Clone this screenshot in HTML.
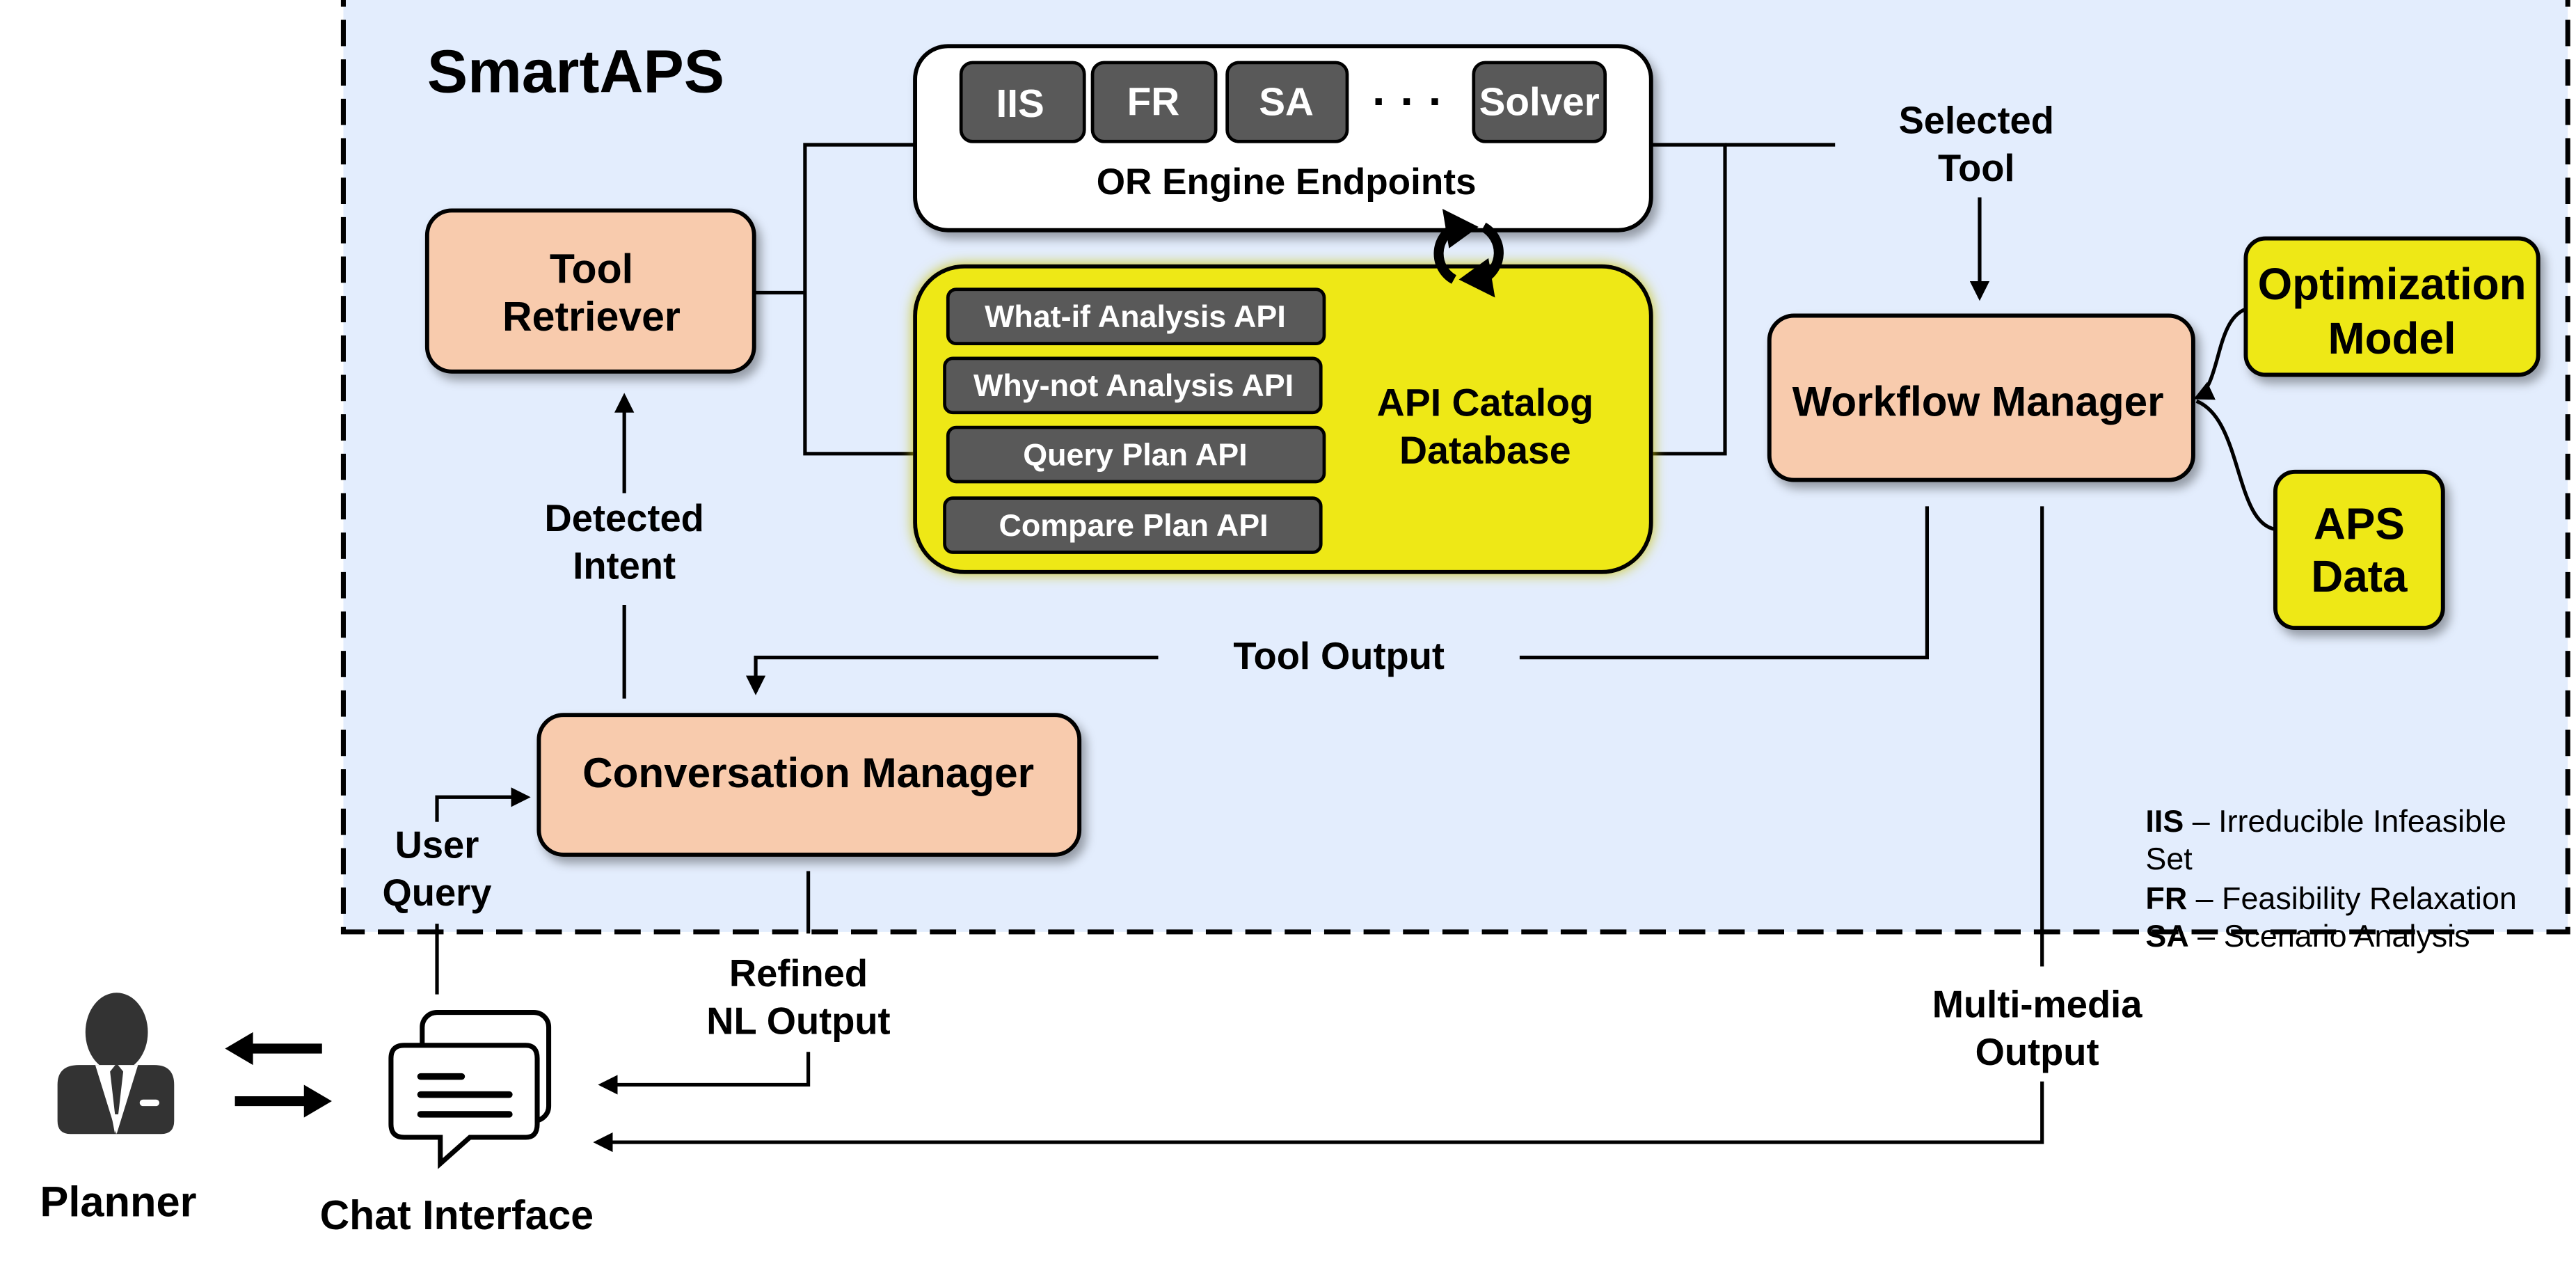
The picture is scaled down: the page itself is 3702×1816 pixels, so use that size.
<!DOCTYPE html>
<html><head><meta charset="utf-8"><style>
html,body{margin:0;padding:0;background:#fff;}
svg{display:block;}
text{font-family:"Liberation Sans",Arial,Helvetica,sans-serif;font-weight:bold;fill:#000;}
</style></head><body>
<svg width="3702" height="1816" viewBox="0 0 1568 769" xmlns="http://www.w3.org/2000/svg">
<defs>
<marker id="ah" markerWidth="12" markerHeight="12" refX="10" refY="6" orient="auto" markerUnits="userSpaceOnUse">
<path d="M0,0 L12,6 L0,12 Z" fill="#000"/></marker>
<filter id="sh" x="-10%" y="-10%" width="130%" height="140%"><feDropShadow dx="3" dy="4" stdDeviation="3" flood-color="#000" flood-opacity="0.35"/></filter>
<filter id="glow" x="-10%" y="-10%" width="120%" height="130%"><feDropShadow dx="0" dy="0" stdDeviation="4" flood-color="#c8c000" flood-opacity="0.9"/></filter>
</defs>
<rect x="209" y="-2" width="1354" height="569" fill="#e3edfd" stroke="#000" stroke-width="3" stroke-dasharray="16,8"/>
<text x="260" y="56" font-size="37">SmartAPS</text>

<g stroke="#000" stroke-width="2.2" fill="none">
<polyline points="459,178 490,178"/>
<polyline points="557,88 490,88 490,276 557,276"/>
<polyline points="1005,88 1050,88 1050,276 1005,276"/>
<line x1="1050" y1="88" x2="1117" y2="88"/>
<line x1="1205" y1="120" x2="1205" y2="181" marker-end="url(#ah)"/>
<polyline points="1173,308 1173,400 925,400"/>
<polyline points="705,400 460,400 460,421" marker-end="url(#ah)"/>
<line x1="380" y1="425" x2="380" y2="368"/>
<line x1="380" y1="300" x2="380" y2="241" marker-end="url(#ah)"/>
<line x1="266" y1="605" x2="266" y2="562"/>
<polyline points="266,500 266,485 321,485" marker-end="url(#ah)"/>
<line x1="492" y1="530" x2="492" y2="568"/>
<polyline points="492,640 492,660 366,660" marker-end="url(#ah)"/>
<line x1="1243" y1="308" x2="1243" y2="588"/>
<polyline points="1243,658 1243,695 363,695" marker-end="url(#ah)"/>
<path d="M1367,188 C1348,195 1352,235 1337,242" marker-end="url(#ah)"/>
<path d="M1385,322 C1360,318 1365,255 1337,244"/>
</g>

<rect x="557" y="28" width="448" height="112" rx="20" fill="#fff" stroke="#000" stroke-width="2.5" filter="url(#sh)"/>
<g stroke="#000" stroke-width="2" fill="#595959">
<rect x="585" y="38" width="75" height="48" rx="7"/>
<rect x="665" y="38" width="75" height="48" rx="7"/>
<rect x="747" y="38" width="73" height="48" rx="7"/>
<rect x="897" y="38" width="80" height="48" rx="7"/>
</g>
<g font-size="24" text-anchor="middle">
<text x="621" y="71" style="fill:#fff">IIS</text>
<text x="702" y="70" style="fill:#fff">FR</text>
<text x="783" y="70" style="fill:#fff">SA</text>
<text x="937" y="70" style="fill:#fff">Solver</text>
</g>
<text x="857" y="71" font-size="28" text-anchor="middle">· · ·</text>
<text x="783" y="118" font-size="22.5" text-anchor="middle">OR Engine Endpoints</text>

<rect x="557" y="162" width="448" height="186" rx="30" fill="#eee813" stroke="#000" stroke-width="2.5" filter="url(#glow)"/>
<g stroke="#000" stroke-width="2" fill="#595959">
<rect x="577" y="176" width="229" height="33" rx="5"/>
<rect x="575" y="218" width="229" height="33" rx="5"/>
<rect x="577" y="260" width="229" height="33" rx="5"/>
<rect x="575" y="303" width="229" height="33" rx="5"/>
</g>
<g font-size="19" text-anchor="middle">
<text x="691" y="199" style="fill:#fff">What-if Analysis API</text>
<text x="690" y="241" style="fill:#fff">Why-not Analysis API</text>
<text x="691" y="283" style="fill:#fff">Query Plan API</text>
<text x="690" y="326" style="fill:#fff">Compare Plan API</text>
</g>
<text x="904" y="253" font-size="23.5" text-anchor="middle">API Catalog</text>
<text x="904" y="282" font-size="23.5" text-anchor="middle">Database</text>

<g transform="translate(894,154)">
<path d="M-8,-16 A18,18 0 0 0 -9,16" stroke="#000" stroke-width="6" fill="none"/>
<path d="M8,16 A18,18 0 0 0 9,-16" stroke="#000" stroke-width="6" fill="none"/>
<path d="M-16,-27 L6,-16 L-12,-3 Z" fill="#000"/>
<path d="M16,27 L-6,16 L12,3 Z" fill="#000"/>
</g>

<rect x="260" y="128" width="199" height="98" rx="15" fill="#f8cbad" stroke="#000" stroke-width="2.5" filter="url(#sh)"/>
<text x="360" y="172" font-size="25" text-anchor="middle">Tool</text>
<text x="360" y="201" font-size="25" text-anchor="middle">Retriever</text>

<rect x="1077" y="192" width="258" height="100" rx="15" fill="#f8cbad" stroke="#000" stroke-width="2.5" filter="url(#sh)"/>
<text x="1204" y="253" font-size="25.5" text-anchor="middle">Workflow Manager</text>

<rect x="1367" y="145" width="178" height="83" rx="12" fill="#eee813" stroke="#000" stroke-width="2.5" filter="url(#sh)"/>
<text x="1456" y="182" font-size="27" text-anchor="middle">Optimization</text>
<text x="1456" y="215" font-size="27" text-anchor="middle">Model</text>
<rect x="1385" y="287" width="102" height="95" rx="12" fill="#eee813" stroke="#000" stroke-width="2.5" filter="url(#sh)"/>
<text x="1436" y="328" font-size="27" text-anchor="middle">APS</text>
<text x="1436" y="360" font-size="27" text-anchor="middle">Data</text>

<rect x="328" y="435" width="329" height="85" rx="15" fill="#f8cbad" stroke="#000" stroke-width="2.5" filter="url(#sh)"/>
<text x="492" y="479" font-size="25.5" text-anchor="middle">Conversation Manager</text>

<g font-size="23" text-anchor="middle">
<text x="1203" y="81">Selected</text><text x="1203" y="110">Tool</text>
<text x="815" y="407">Tool Output</text>
<text x="380" y="323">Detected</text><text x="380" y="352">Intent</text>
<text x="266" y="522">User</text><text x="266" y="551">Query</text>
<text x="486" y="600">Refined</text><text x="486" y="629">NL Output</text>
<text x="1240" y="619">Multi-media</text><text x="1240" y="648">Output</text>
</g>

<g font-size="19">
<text x="1306" y="506" style="font-weight:normal"><tspan style="font-weight:bold">IIS</tspan> – Irreducible Infeasible</text>
<text x="1306" y="529" style="font-weight:normal">Set</text>
<text x="1306" y="553" style="font-weight:normal"><tspan style="font-weight:bold">FR</tspan> – Feasibility Relaxation</text>
<text x="1306" y="576" style="font-weight:normal"><tspan style="font-weight:bold">SA</tspan> – Scenario Analysis</text>
</g>

<g fill="#333">
<ellipse cx="71" cy="628" rx="19" ry="24"/>
<path d="M48,648 L62,648 L70,690 L78,648 L94,648 Q106,648 106,660 L106,682 Q106,690 98,690 L43,690 Q35,690 35,682 L35,660 Q35,648 48,648 Z"/>
</g>
<path d="M58,648 L71,690 L84,648 Z" fill="#fff"/>
<path d="M67,652 L71,647 L75,652 L72,678 L70,678 Z" fill="#333"/>
<rect x="85" y="669" width="12" height="4" rx="2" fill="#fff"/>
<text x="72" y="740" font-size="26" text-anchor="middle">Planner</text>

<path d="M196,635 L154,635 L154,628 L137,638 L154,648 L154,641 L196,641 Z" fill="#000"/>
<path d="M143,667 L185,667 L185,660 L202,670 L185,680 L185,673 L143,673 Z" fill="#000"/>

<g fill="#fff" stroke="#000" stroke-width="3">
<rect x="257" y="616" width="77" height="66" rx="9"/>
<path d="M246,636 L320,636 Q327,636 327,644 L327,684 Q327,692 320,692 L286,692 L268,708 L268,692 L246,692 Q238,692 238,684 L238,644 Q238,636 246,636 Z"/>
</g>
<g stroke="#000" stroke-width="4" stroke-linecap="round">
<line x1="256" y1="655" x2="281" y2="655"/>
<line x1="256" y1="666" x2="310" y2="666"/>
<line x1="256" y1="678" x2="310" y2="678"/>
</g>
<text x="278" y="748" font-size="25" text-anchor="middle">Chat Interface</text>
</svg>
</body></html>
